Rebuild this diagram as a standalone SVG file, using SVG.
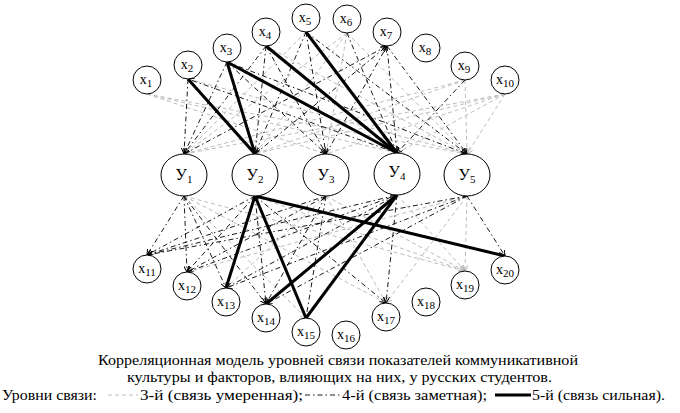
<svg xmlns="http://www.w3.org/2000/svg" width="680" height="413" viewBox="0 0 680 413">
<style>
.n{fill:#fff;stroke:#000;stroke-width:1}
text{font-family:'Liberation Serif',serif;fill:#000}
.t{font-size:14px;text-anchor:middle}
.ty{font-size:16px;text-anchor:middle}
.sub{font-size:11px}
.c{font-size:14px}
.g{stroke:#bdbdbd;stroke-width:1;stroke-dasharray:4 3;fill:none}
.d{stroke:#000;stroke-width:0.9;stroke-dasharray:5 3 1.5 3;fill:none}
.s{stroke:#000;stroke-width:3;fill:none}
</style>
<defs>
<marker id="ab" viewBox="0 0 6 6" refX="6" refY="3" markerWidth="6" markerHeight="6" markerUnits="userSpaceOnUse" orient="auto"><path d="M0,0 L6,3 L0,6" fill="none" stroke="#000" stroke-width="1"/></marker>
<marker id="ag" viewBox="0 0 6 6" refX="6" refY="3" markerWidth="6" markerHeight="6" markerUnits="userSpaceOnUse" orient="auto"><path d="M0,0 L6,3 L0,6" fill="none" stroke="#bdbdbd" stroke-width="1"/></marker>
</defs>
<g id="connectors">
<g class="g" marker-end="url(#ag)">
<line x1="147" y1="94" x2="326" y2="154"/>
<line x1="147" y1="94" x2="397" y2="153"/>
<line x1="147" y1="94" x2="467" y2="154"/>
<line x1="188" y1="79" x2="467" y2="154"/>
<line x1="266" y1="46" x2="467" y2="154"/>
<line x1="306" y1="32" x2="184" y2="154"/>
<line x1="347" y1="33" x2="184" y2="154"/>
<line x1="347" y1="33" x2="255" y2="154"/>
<line x1="347" y1="33" x2="326" y2="154"/>
<line x1="347" y1="33" x2="467" y2="154"/>
<line x1="465" y1="80" x2="184" y2="154"/>
<line x1="465" y1="80" x2="255" y2="154"/>
<line x1="465" y1="80" x2="467" y2="154"/>
<line x1="505" y1="94" x2="184" y2="154"/>
<line x1="505" y1="94" x2="255" y2="154"/>
<line x1="505" y1="94" x2="326" y2="154"/>
<line x1="505" y1="94" x2="397" y2="153"/>
<line x1="505" y1="94" x2="467" y2="154"/>
</g>
<g class="d" marker-end="url(#ab)">
<line x1="188" y1="79" x2="184" y2="154"/>
<line x1="397" y1="153" x2="188" y2="79"/>
<line x1="227" y1="62" x2="184" y2="154"/>
<line x1="227" y1="62" x2="326" y2="154"/>
<line x1="227" y1="62" x2="467" y2="154"/>
<line x1="266" y1="46" x2="184" y2="154"/>
<line x1="266" y1="46" x2="255" y2="154"/>
<line x1="266" y1="46" x2="326" y2="154"/>
<line x1="306" y1="32" x2="255" y2="154"/>
<line x1="306" y1="32" x2="326" y2="154"/>
<line x1="306" y1="32" x2="467" y2="154"/>
<line x1="347" y1="33" x2="397" y2="153"/>
<line x1="184" y1="154" x2="387" y2="46"/>
<line x1="255" y1="154" x2="387" y2="46"/>
<line x1="326" y1="154" x2="387" y2="46"/>
<line x1="387" y1="46" x2="397" y2="153"/>
<line x1="387" y1="46" x2="467" y2="154"/>
<line x1="465" y1="80" x2="397" y2="153"/>
</g>
<g class="g" marker-end="url(#ag)">
<line x1="184" y1="196" x2="386" y2="303"/>
<line x1="184" y1="196" x2="465" y2="271"/>
<line x1="255" y1="196" x2="465" y2="271"/>
<line x1="326" y1="196" x2="226" y2="288"/>
<line x1="326" y1="196" x2="386" y2="303"/>
<line x1="326" y1="196" x2="465" y2="271"/>
<line x1="397" y1="195" x2="465" y2="271"/>
<line x1="467" y1="196" x2="187" y2="272"/>
<line x1="467" y1="196" x2="386" y2="303"/>
<line x1="467" y1="196" x2="465" y2="271"/>
<line x1="184" y1="196" x2="306" y2="318"/>
</g>
<g class="d" marker-end="url(#ab)">
<line x1="184" y1="196" x2="147" y2="255"/>
<line x1="184" y1="196" x2="187" y2="272"/>
<line x1="184" y1="196" x2="226" y2="288"/>
<line x1="184" y1="196" x2="266" y2="304"/>
<line x1="255" y1="196" x2="147" y2="255"/>
<line x1="255" y1="196" x2="187" y2="272"/>
<line x1="255" y1="196" x2="266" y2="304"/>
<line x1="255" y1="196" x2="386" y2="303"/>
<line x1="147" y1="255" x2="326" y2="196"/>
<line x1="326" y1="196" x2="187" y2="272"/>
<line x1="326" y1="196" x2="266" y2="304"/>
<line x1="326" y1="196" x2="306" y2="318"/>
<line x1="147" y1="255" x2="397" y2="195"/>
<line x1="187" y1="272" x2="397" y2="195"/>
<line x1="226" y1="288" x2="397" y2="195"/>
<line x1="397" y1="195" x2="386" y2="303"/>
<line x1="467" y1="196" x2="147" y2="255"/>
<line x1="467" y1="196" x2="226" y2="288"/>
<line x1="467" y1="196" x2="266" y2="304"/>
<line x1="467" y1="196" x2="505" y2="256"/>
</g>
<g class="s">
<line x1="188" y1="79" x2="255" y2="154"/>
<line x1="227" y1="62" x2="255" y2="154"/>
<line x1="227" y1="62" x2="397" y2="153"/>
<line x1="266" y1="46" x2="397" y2="153"/>
<line x1="306" y1="32" x2="397" y2="153"/>
<line x1="255" y1="196" x2="226" y2="288"/>
<line x1="255" y1="196" x2="306" y2="318"/>
<line x1="255" y1="196" x2="505" y2="256"/>
<line x1="397" y1="195" x2="266" y2="304"/>
<line x1="397" y1="195" x2="306" y2="318"/>
</g>
</g>
<g id="x1"><circle class="n" cx="147" cy="80" r="14"/><text class="t" x="146" y="84">x<tspan class="sub" dy="3">1</tspan></text></g>
<g id="x2"><circle class="n" cx="188" cy="65" r="14"/><text class="t" x="187" y="69">x<tspan class="sub" dy="3">2</tspan></text></g>
<g id="x3"><circle class="n" cx="227" cy="48" r="14"/><text class="t" x="226" y="52">x<tspan class="sub" dy="3">3</tspan></text></g>
<g id="x4"><circle class="n" cx="266" cy="32" r="14"/><text class="t" x="265" y="36">x<tspan class="sub" dy="3">4</tspan></text></g>
<g id="x5"><circle class="n" cx="306" cy="18" r="14"/><text class="t" x="305" y="22">x<tspan class="sub" dy="3">5</tspan></text></g>
<g id="x6"><circle class="n" cx="347" cy="19" r="14"/><text class="t" x="346" y="23">x<tspan class="sub" dy="3">6</tspan></text></g>
<g id="x7"><circle class="n" cx="387" cy="32" r="14"/><text class="t" x="386" y="36">x<tspan class="sub" dy="3">7</tspan></text></g>
<g id="x8"><circle class="n" cx="426" cy="48" r="14"/><text class="t" x="425" y="52">x<tspan class="sub" dy="3">8</tspan></text></g>
<g id="x9"><circle class="n" cx="465" cy="66" r="14"/><text class="t" x="464" y="70">x<tspan class="sub" dy="3">9</tspan></text></g>
<g id="x10"><circle class="n" cx="505" cy="80" r="14"/><text class="t" x="505" y="84">x<tspan class="sub" dy="3">10</tspan></text></g>
<g id="y1"><ellipse class="n" cx="184" cy="175" rx="23" ry="21"/><text class="ty" x="184" y="180">У<tspan class="sub" dy="3">1</tspan></text></g>
<g id="y2"><ellipse class="n" cx="255" cy="175" rx="23" ry="21"/><text class="ty" x="255" y="180">У<tspan class="sub" dy="3">2</tspan></text></g>
<g id="y3"><ellipse class="n" cx="326" cy="175" rx="23" ry="21"/><text class="ty" x="326" y="180">У<tspan class="sub" dy="3">3</tspan></text></g>
<g id="y4"><ellipse class="n" cx="397" cy="174" rx="23" ry="21"/><text class="ty" x="397" y="177">У<tspan class="sub" dy="3">4</tspan></text></g>
<g id="y5"><ellipse class="n" cx="467" cy="175" rx="23" ry="21"/><text class="ty" x="467" y="180">У<tspan class="sub" dy="3">5</tspan></text></g>
<g id="x11"><circle class="n" cx="147" cy="269" r="14"/><text class="t" x="147" y="273">x<tspan class="sub" dy="3">11</tspan></text></g>
<g id="x12"><circle class="n" cx="187" cy="286" r="14"/><text class="t" x="187" y="290">x<tspan class="sub" dy="3">12</tspan></text></g>
<g id="x13"><circle class="n" cx="226" cy="302" r="14"/><text class="t" x="226" y="306">x<tspan class="sub" dy="3">13</tspan></text></g>
<g id="x14"><circle class="n" cx="266" cy="318" r="14"/><text class="t" x="266" y="322">x<tspan class="sub" dy="3">14</tspan></text></g>
<g id="x15"><circle class="n" cx="306" cy="332" r="14"/><text class="t" x="306" y="336">x<tspan class="sub" dy="3">15</tspan></text></g>
<g id="x16"><circle class="n" cx="346" cy="335" r="14"/><text class="t" x="346" y="339">x<tspan class="sub" dy="3">16</tspan></text></g>
<g id="x17"><circle class="n" cx="386" cy="317" r="14"/><text class="t" x="386" y="321">x<tspan class="sub" dy="3">17</tspan></text></g>
<g id="x18"><circle class="n" cx="426" cy="302" r="14"/><text class="t" x="426" y="306">x<tspan class="sub" dy="3">18</tspan></text></g>
<g id="x19"><circle class="n" cx="465" cy="285" r="14"/><text class="t" x="465" y="289">x<tspan class="sub" dy="3">19</tspan></text></g>
<g id="x20"><circle class="n" cx="505" cy="270" r="14"/><text class="t" x="505" y="274">x<tspan class="sub" dy="3">20</tspan></text></g>
<g id="caption">
<text class="c" x="98" y="365" textLength="480" lengthAdjust="spacingAndGlyphs">Корреляционная модель уровней связи показателей коммуникативной</text>
<text class="c" x="127" y="382" textLength="425" lengthAdjust="spacingAndGlyphs">культуры и факторов, влияющих на них, у русских студентов.</text>
</g>
<g id="legend">
<text class="c" x="2" y="400" textLength="95" lengthAdjust="spacingAndGlyphs">Уровни связи:</text>
<line class="g" x1="108" y1="395" x2="138" y2="395"/>
<text class="c" x="140" y="400" textLength="163" lengthAdjust="spacingAndGlyphs">3-й (связь умеренная);</text>
<line class="d" x1="305" y1="395" x2="340" y2="395"/>
<text class="c" x="342" y="400" textLength="145" lengthAdjust="spacingAndGlyphs">4-й (связь заметная);</text>
<line class="s" x1="495" y1="395" x2="531" y2="395"/>
<text class="c" x="532" y="400" textLength="133" lengthAdjust="spacingAndGlyphs">5-й (связь сильная).</text>
</g>
</svg>
